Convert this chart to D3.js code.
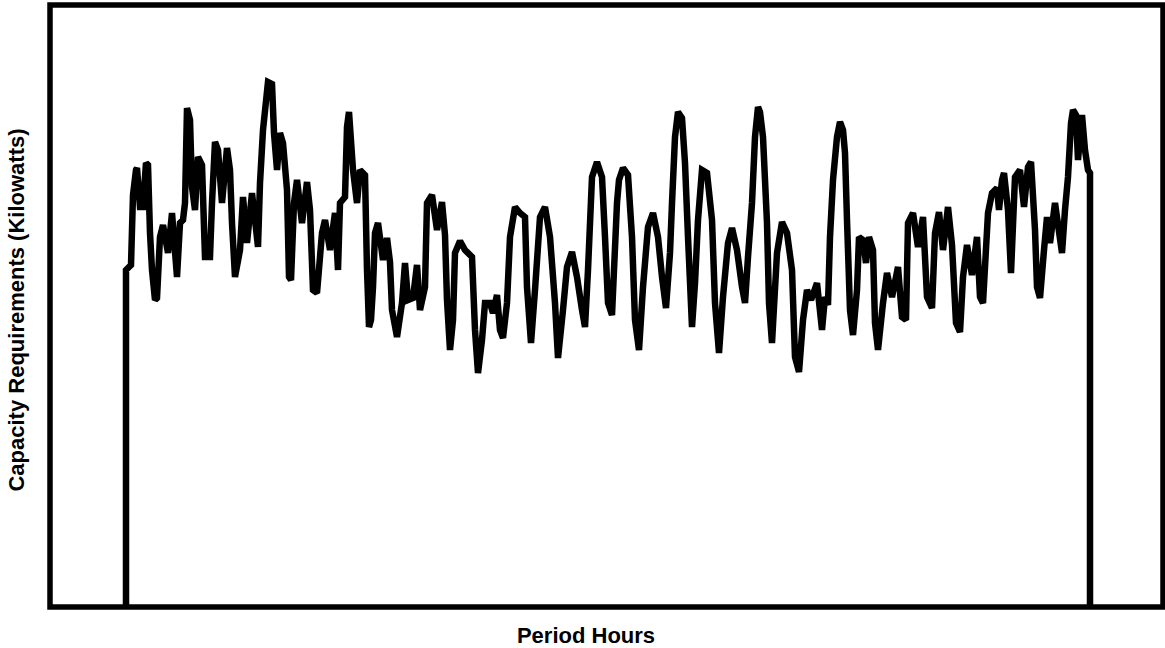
<!DOCTYPE html>
<html>
<head>
<meta charset="utf-8">
<script src="https://cdn.jsdelivr.net/npm/d3@7"></script>
<style>
  body { margin: 0; background: #fff; }
  text { font-family: "Liberation Sans", Arial, sans-serif; font-weight: bold; fill: #000; }
</style>
</head>
<body>
<svg id="chart" width="1165" height="648"></svg>
<script>
// Period hours (x) and capacity requirement in kW (y)
var hours = [0, 0, 3, 5, 7, 10, 11, 14, 17, 20, 22, 24, 26, 29, 31, 34, 37, 42, 46, 51,
  54, 57, 59, 61, 64, 66, 69, 72, 76, 79, 84, 86, 89, 92, 96, 101, 104, 106, 109, 114,
  117, 121, 126, 132, 134, 137, 142, 146, 148, 151, 154, 157, 161, 163, 165, 168, 171, 176, 181, 184,
  187, 191, 196, 199, 204, 209, 212, 214, 219, 221, 223, 227, 231, 234, 239, 241, 243, 245, 247, 249,
  252, 257, 261, 264, 266, 271, 276, 279, 282, 287, 291, 294, 299, 301, 306, 311, 316, 319, 321, 324,
  327, 329, 334, 339, 346, 349, 352, 356, 359, 364, 367, 371, 374, 377, 381, 384, 389, 394, 399, 401,
  405, 409, 414, 419, 424, 429, 432, 437, 441, 446, 451, 456, 459, 462, 466, 471, 476, 479, 482, 486,
  491, 493, 497, 502, 506, 509, 513, 517, 522, 527, 532, 536, 540, 544, 546, 549, 552, 556, 559, 562,
  566, 569, 572, 576, 581, 586, 589, 593, 597, 602, 606, 611, 616, 619, 622, 626, 629, 632, 634, 637,
  641, 643, 646, 651, 656, 661, 666, 669, 673, 677, 681, 685, 691, 696, 699, 702, 704, 707, 711, 714,
  717, 719, 721, 724, 727, 731, 733, 737, 740, 743, 747, 749, 752, 757, 761, 766, 772, 776, 780, 782,
  787, 792, 797, 801, 806, 809, 813, 817, 822, 826, 830, 834, 837, 841, 846, 851, 854, 857, 862, 866,
  871, 873, 876, 878, 882, 885, 889, 894, 898, 902, 905, 909, 911, 914, 918, 921, 924, 929, 936, 939,
  942, 945, 947, 950, 952, 956, 959, 962, 964, 964];

var kw = [0, 337, 340, 342, 412, 437, 439, 400, 400, 444, 442, 374, 337, 307, 309, 370, 382, 354, 394, 330,
  384, 387, 404, 499, 487, 420, 397, 450, 442, 350, 350, 404, 465, 457, 404, 459, 437, 384, 330, 357,
  410, 364, 414, 360, 424, 477, 525, 523, 474, 437, 474, 464, 417, 330, 327, 404, 427, 384, 425, 397,
  317, 314, 374, 387, 357, 394, 337, 404, 410, 480, 495, 437, 404, 437, 432, 337, 280, 287, 320, 374,
  384, 347, 369, 345, 297, 270, 304, 344, 307, 309, 342, 297, 320, 404, 412, 377, 405, 372, 307, 257,
  287, 354, 366, 357, 350, 277, 234, 267, 304, 304, 294, 312, 277, 269, 304, 370, 400, 394, 390, 320,
  264, 317, 390, 400, 370, 304, 249, 297, 340, 355, 330, 297, 280, 337, 430, 445, 430, 370, 304, 292,
  404, 427, 439, 432, 370, 287, 257, 320, 380, 394, 370, 330, 299, 354, 404, 470, 495, 489, 444, 370,
  280, 324, 387, 437, 434, 387, 304, 254, 310, 364, 379, 357, 320, 304, 350, 404, 470, 500, 495, 470,
  384, 304, 264, 354, 385, 374, 337, 250, 235, 287, 317, 307, 324, 277, 310, 302, 370, 427, 470, 485,
  477, 454, 387, 297, 272, 317, 370, 367, 344, 370, 357, 284, 257, 304, 334, 310, 340, 290, 287, 384,
  394, 360, 390, 310, 299, 374, 395, 357, 400, 362, 284, 275, 330, 362, 332, 370, 310, 304, 394, 414,
  419, 397, 427, 434, 397, 334, 430, 437, 400, 440, 445, 377, 320, 309, 357, 390, 364, 404, 354, 397,
  430, 484, 497, 492, 447, 492, 457, 437, 434, 0];

var xLabel = "Period Hours";
var yLabel = "Capacity Requirements (Kilowatts)";

var svg = d3.select("#chart");

// frame of the plot area
var frame = { left: 50, top: 5, right: 1163, bottom: 607 };

var x = d3.scaleLinear()
    .domain([0, d3.max(hours)])
    .range([frame.left + 76, frame.right - 73]);

var y = d3.scaleLinear()
    .domain([0, 602])
    .range([frame.bottom, frame.top]);

svg.append("rect")
    .attr("x", frame.left)
    .attr("y", frame.top)
    .attr("width", frame.right - frame.left)
    .attr("height", frame.bottom - frame.top)
    .attr("fill", "none")
    .attr("stroke", "#000")
    .attr("stroke-width", 5.5);

var points = hours.map(function(h, i) { return [h, kw[i]]; });

var line = d3.line()
    .x(function(d) { return x(d[0]); })
    .y(function(d) { return y(d[1]); });

svg.append("path")
    .datum(points)
    .attr("d", line)
    .attr("fill", "none")
    .attr("stroke", "#000")
    .attr("stroke-width", 6.5)
    .attr("stroke-linejoin", "miter")
    .attr("stroke-miterlimit", 2);

// axis titles
svg.append("text")
    .attr("x", 586)
    .attr("y", 643)
    .attr("text-anchor", "middle")
    .style("font-size", "22px")
    .text(xLabel);

svg.append("text")
    .attr("transform", "translate(24,310) rotate(-90)")
    .attr("text-anchor", "middle")
    .style("font-size", "22px")
    .text(yLabel);
</script>
</body>
</html>
